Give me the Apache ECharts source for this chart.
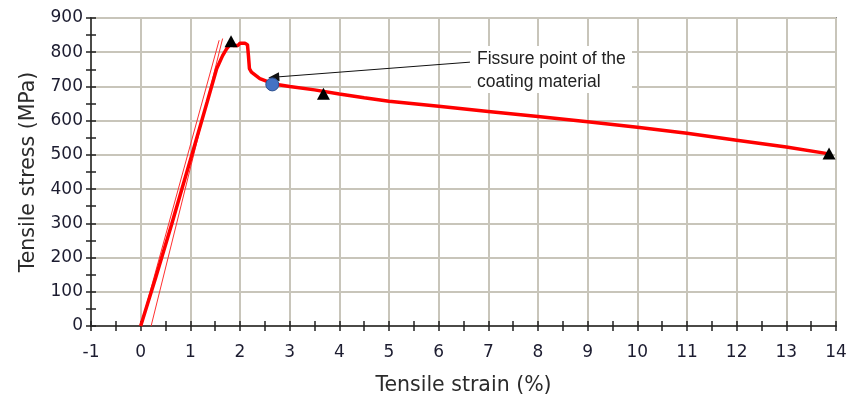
<!DOCTYPE html>
<html>
<head>
<meta charset="utf-8">
<script src="https://cdn.jsdelivr.net/npm/echarts@6/dist/echarts.min.js"></script>
<style>
html,body{margin:0;padding:0;background:#fff;}
#chart{width:849px;height:396px;}
</style>
</head>
<body>
<div id="chart"></div>
<script>
// ---- data ----
var strain = [0, 0.3, 0.62, 0.83, 1.03, 1.23, 1.34, 1.53, 1.65, 1.73, 1.8, 1.86, 1.96, 2.0, 2.1, 2.15, 2.17, 2.19, 2.23, 2.4, 2.57, 2.65, 3.0, 3.5, 4.0, 4.5, 5, 6, 7, 8, 9, 10, 11, 12, 13, 13.86];
var stress = [0, 140, 295, 400, 500, 600, 655, 752, 790, 810, 823, 820, 820, 826, 826, 822, 790, 752, 742, 723, 713, 708, 700, 690, 678, 667, 657, 642, 627, 612, 597, 581, 563, 543, 523, 503];
var offsetLineStrain = [0.21, 1.65];
var offsetLineStress = [0, 840];
var tangentLineStrain = [0, 1.58];
var tangentLineStress = [0, 835];
var triangleStrain = [1.82, 3.68, 13.86];
var triangleStress = [832, 679, 504];
var fissureStrain = [2.65];
var fissureStress = [706];
var xTicks = [-1, 0, 1, 2, 3, 4, 5, 6, 7, 8, 9, 10, 11, 12, 13, 14];
var yTicks = [0, 100, 200, 300, 400, 500, 600, 700, 800, 900];
var annotationText = 'Fissure point of the\ncoating material';
var arrowFrom = [6.63, 771];
var arrowTo = [2.68, 727];

function zip(a, b) { return a.map(function (v, i) { return [v, b[i]]; }); }

var chart = echarts.init(document.getElementById('chart'));
var labelColor = '#1c1c30';
var gridColor = '#c8c5ba';
var option = {
  animation: false,
  grid: { left: 91, right: 13, top: 18, bottom: 70, containLabel: false, outerBoundsMode: 'none', show: true, borderColor: '#333', borderWidth: 1.5, backgroundColor: 'transparent' },
  xAxis: [
    {
      type: 'value', min: xTicks[0], max: xTicks[xTicks.length - 1], interval: 1, position: 'bottom',
      name: 'Tensile strain (%)', nameLocation: 'middle', nameGap: 49,
      nameTextStyle: { fontFamily: 'DejaVu Sans', fontSize: 20.5, color: '#2b2b2b' },
      axisLine: { show: true, onZero: false, lineStyle: { color: '#222', width: 1.5 } },
      axisTick: { show: true, length: 5, lineStyle: { color: '#222', width: 1.5 } },
      minorTick: { show: true, splitNumber: 2, length: 5, lineStyle: { color: '#222', width: 1.5 } },
      axisLabel: { margin: 18, fontFamily: 'DejaVu Sans', fontSize: 17, color: labelColor },
      splitLine: { show: true, lineStyle: { color: gridColor, width: 2 } }
    },
    {
      type: 'value', min: xTicks[0], max: xTicks[xTicks.length - 1], interval: 1, position: 'bottom',
      axisLine: { show: false, onZero: false },
      axisTick: { show: true, inside: true, length: 5, lineStyle: { color: '#222', width: 1.5 } },
      minorTick: { show: true, splitNumber: 2, length: 5, lineStyle: { color: '#222', width: 1.5 } },
      axisLabel: { show: false },
      splitLine: { show: false }
    }
  ],
  yAxis: [
    {
      type: 'value', min: yTicks[0], max: yTicks[yTicks.length - 1], interval: 100, position: 'left',
      name: 'Tensile stress (MPa)', nameLocation: 'middle', nameGap: 52,
      nameTextStyle: { fontFamily: 'DejaVu Sans', fontSize: 20.5, color: '#2b2b2b' },
      axisLine: { show: true, onZero: false, lineStyle: { color: '#222', width: 1.5 } },
      axisTick: { show: true, length: 5, lineStyle: { color: '#222', width: 1.5 } },
      minorTick: { show: true, splitNumber: 2, length: 5, lineStyle: { color: '#222', width: 1.5 } },
      axisLabel: { margin: 8, fontFamily: 'DejaVu Sans', fontSize: 17, color: labelColor },
      splitLine: { show: true, lineStyle: { color: gridColor, width: 2 } }
    },
    {
      type: 'value', min: yTicks[0], max: yTicks[yTicks.length - 1], interval: 100, position: 'left',
      axisLine: { show: false, onZero: false },
      axisTick: { show: true, inside: true, length: 5, lineStyle: { color: '#222', width: 1.5 } },
      minorTick: { show: true, splitNumber: 2, length: 5, lineStyle: { color: '#222', width: 1.5 } },
      axisLabel: { show: false },
      splitLine: { show: false }
    }
  ],
  graphic: [
    { type: 'rect', z: 1, shape: { x: 471, y: 46, width: 161, height: 47 }, style: { fill: '#fff' }, silent: true },
    { type: 'text', z: 2, x: 477, y: 48, silent: true,
      style: { text: annotationText, font: '17.5px "Liberation Sans"', fill: '#222', lineHeight: 22.5, textVerticalAlign: 'top', textAlign: 'left' } }
  ],
  series: [
    { type: 'line', xAxisIndex: 0, yAxisIndex: 0, data: zip(offsetLineStrain, offsetLineStress), showSymbol: false, lineStyle: { color: '#ff3030', width: 1 }, z: 3 },
    { type: 'line', xAxisIndex: 0, yAxisIndex: 0, data: zip(tangentLineStrain, tangentLineStress), showSymbol: false, lineStyle: { color: '#ff3030', width: 1 }, z: 3 },
    { type: 'line', xAxisIndex: 0, yAxisIndex: 0, data: zip(strain, stress), showSymbol: false, lineStyle: { color: '#ff0000', width: 3.5 }, z: 4 },
    { type: 'scatter', xAxisIndex: 0, yAxisIndex: 0, data: zip(triangleStrain, triangleStress), symbol: 'triangle', symbolSize: [13, 12], itemStyle: { color: '#000', opacity: 1 }, z: 5 },
    { type: 'scatter', xAxisIndex: 0, yAxisIndex: 0, data: zip(fissureStrain, fissureStress), symbol: 'circle', symbolSize: 13,
      itemStyle: { color: '#4472c4', borderColor: '#2f528f', borderWidth: 1, opacity: 1 }, z: 6,
      markLine: { silent: true, animation: false, symbol: ['none', 'triangle'], symbolSize: [9, 11],
        label: { show: false }, lineStyle: { color: '#111', width: 1, type: 'solid' },
        data: [[{ coord: arrowFrom }, { coord: arrowTo }]] } }
  ]
};
chart.setOption(option);
</script>
</body>
</html>
